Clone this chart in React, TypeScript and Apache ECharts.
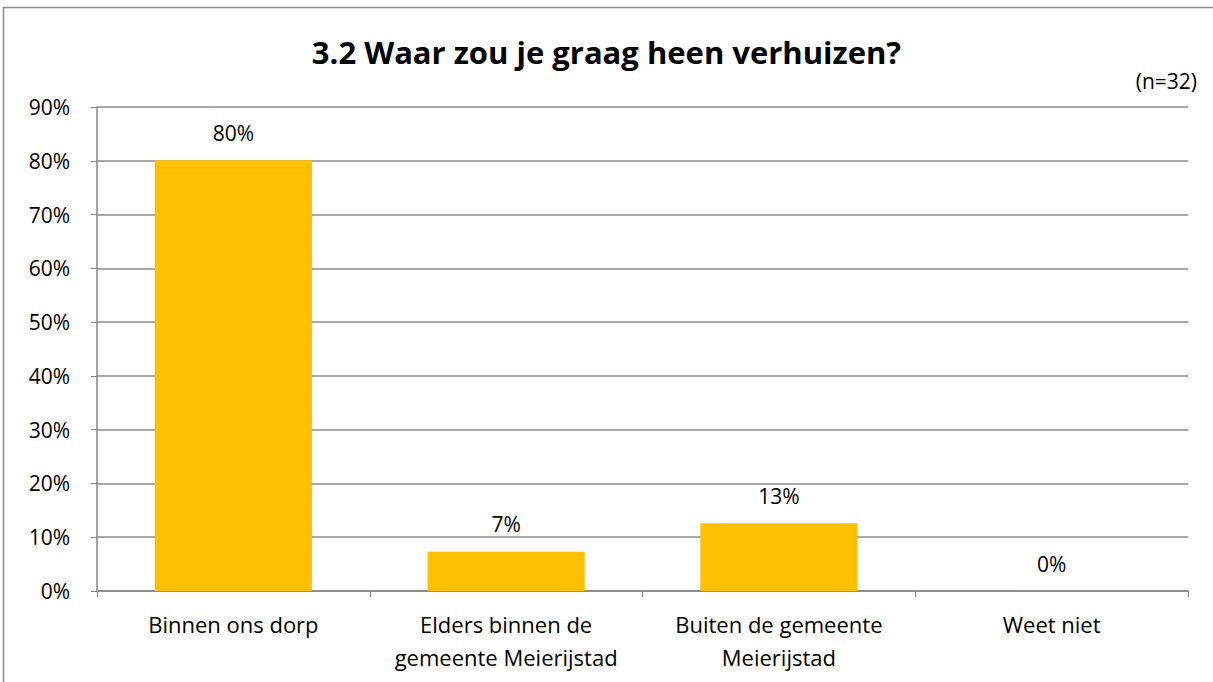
import React, { useEffect, useRef } from "react";
import * as echarts from "echarts";

const categories = ["Binnen ons dorp", "Elders binnen de\ngemeente Meierijstad", "Buiten de gemeente\nMeierijstad", "Weet niet"];
const values = [80.1, 7.3, 12.6, 0];
const labels = ["80%", "7%", "13%", "0%"];
const yTicks = [0, 10, 20, 30, 40, 50, 60, 70, 80, 90];

const FONT = "'Open Sans', Lato, sans-serif";

export default function App() {
  const ref = useRef<HTMLDivElement>(null);
  useEffect(() => {
    document.body.style.margin = "0";
    const chart = echarts.init(ref.current!, null, { renderer: "svg" });
    chart.setOption({
      animation: false,
      backgroundColor: "#ffffff",
      textStyle: { fontFamily: FONT },
      title: {
        text: "3.2 Waar zou je graag heen verhuizen?",
        left: "center",
        top: 31,
        textStyle: { fontFamily: FONT, fontWeight: "bold", fontSize: 31, color: "#000" },
      },
      graphic: [
        {
          type: "rect",
          shape: { x: 3.5, y: 7.5, width: 1220, height: 690 },
          style: { fill: "none", stroke: "#8c8c8c", lineWidth: 1.5 },
          silent: true,
        },
        {
          type: "text",
          right: 16,
          top: 70,
          style: { text: "(n=32)", fontFamily: FONT, fontSize: 21, fill: "#000" },
        },
      ],
      grid: { left: 97, right: 25, top: 107, bottom: 91, containLabel: false },
      xAxis: {
        type: "category",
        data: categories,
        axisLine: { lineStyle: { color: "#868686", width: 1.5 } },
        axisTick: { show: true, length: 6, alignWithLabel: false, lineStyle: { color: "#868686" } },
        axisLabel: { fontFamily: FONT, fontSize: 22, color: "#000", margin: 16, lineHeight: 33, interval: 0 },
      },
      yAxis: {
        type: "value",
        min: 0,
        max: 90,
        interval: 10,
        axisLine: { show: true, lineStyle: { color: "#868686", width: 1.5 } },
        axisTick: { show: true, length: 6, lineStyle: { color: "#868686" } },
        axisLabel: { fontFamily: FONT, fontSize: 21, color: "#000", margin: 27, formatter: (v: number) => (yTicks.includes(v) ? v + "%" : "") },
        splitLine: { show: true, lineStyle: { color: "#8c8c8c", width: 1.5 } },
      },
      series: [
        {
          type: "bar",
          data: values,
          barWidth: "57.6%",
          itemStyle: { color: "#FFC000" },
          label: {
            show: true,
            position: "top",
            distance: 17,
            fontFamily: FONT,
            fontSize: 21,
            color: "#000",
            formatter: (p: any) => labels[p.dataIndex],
          },
        },
      ],
    });
    return () => chart.dispose();
  }, []);
  return <div ref={ref} style={{ width: 1213, height: 682 }} />;
}
